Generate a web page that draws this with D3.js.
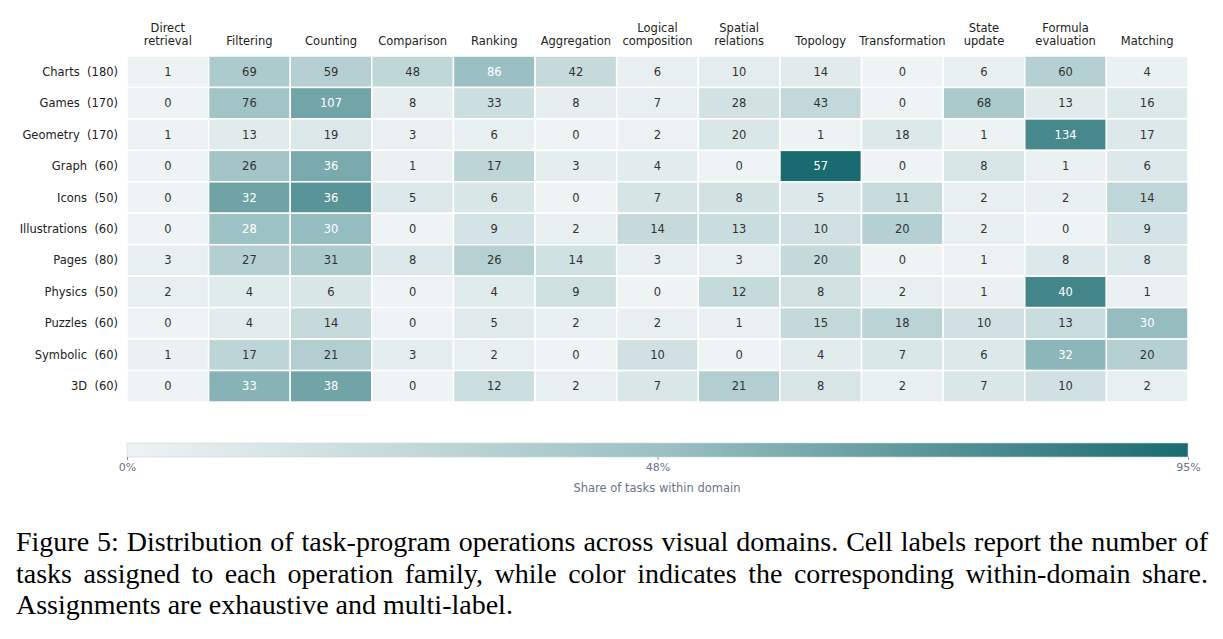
<!DOCTYPE html>
<html><head><meta charset="utf-8">
<script src="https://cdn.jsdelivr.net/npm/d3@7.9.0/dist/d3.min.js"></script>
<style>
body{margin:0;background:#fff}
.caption{position:absolute;left:16px;top:526px;width:1192px;font-family:"Liberation Serif",serif;font-size:28px;line-height:31.5px;color:#000;text-align:justify}
</style></head><body>
<svg id="chart" width="1223" height="520"></svg>
<div class="caption">Figure 5: Distribution of task-program operations across visual domains. Cell labels report the number of tasks assigned to each operation family, while color indicates the corresponding within-domain share. Assignments are exhaustive and multi-label.</div>
<script>
/* ---- data ---- */
const operations = [['Direct','retrieval'],['Filtering'],['Counting'],['Comparison'],['Ranking'],['Aggregation'],
  ['Logical','composition'],['Spatial','relations'],['Topology'],['Transformation'],['State','update'],['Formula','evaluation'],['Matching']];
const domains = ['Charts','Games','Geometry','Graph','Icons','Illustrations','Pages','Physics','Puzzles','Symbolic','3D'];
const domainTotals = [180,170,170,60,50,60,80,50,60,60,60];
const counts = [
  [1,69,59,48,86,42,6,10,14,0,6,60,4],
  [0,76,107,8,33,8,7,28,43,0,68,13,16],
  [1,13,19,3,6,0,2,20,1,18,1,134,17],
  [0,26,36,1,17,3,4,0,57,0,8,1,6],
  [0,32,36,5,6,0,7,8,5,11,2,2,14],
  [0,28,30,0,9,2,14,13,10,20,2,0,9],
  [3,27,31,8,26,14,3,3,20,0,1,8,8],
  [2,4,6,0,4,9,0,12,8,2,1,40,1],
  [0,4,14,0,5,2,2,1,15,18,10,13,30],
  [1,17,21,3,2,0,10,0,4,7,6,32,20],
  [0,33,38,0,12,2,7,21,8,2,7,10,2]
];
const colorTicks = [0, 0.475, 0.95];

/* ---- layout ---- */
const svg = d3.select('#chart');
const font = 'DejaVu Sans, sans-serif';
const x = d3.scaleBand().domain(d3.range(operations.length)).range([127,1188]).padding(0);
const y = d3.scaleBand().domain(d3.range(domains.length)).range([56,402]).padding(0);
const color = d3.scaleLinear().domain([0,0.475,0.95]).range(['#eef3f4','#9cc1c3','#1a6b70']).clamp(true);

const cells = counts.flatMap((row,i) => row.map((v,j) => ({i,j,v,share:v/domainTotals[i]})));

svg.append('g').selectAll('rect').data(cells).join('rect')
  .attr('x', d => x(d.j)).attr('y', d => y(d.i))
  .attr('width', x.bandwidth()).attr('height', y.bandwidth())
  .attr('fill', d => color(d.share)).attr('stroke','#fff').attr('stroke-width',1.5);

svg.append('g').selectAll('text').data(cells).join('text')
  .attr('x', d => x(d.j)+x.bandwidth()/2).attr('y', d => y(d.i)+y.bandwidth()/2)
  .attr('dy','0.35em').attr('text-anchor','middle')
  .attr('font-family',font).attr('font-size',11.5)
  .attr('fill', d => d.share > 0.46 ? '#fff' : '#333')
  .text(d => d.v);

/* column headers */
const hdr = svg.append('g').selectAll('text').data(operations).join('text')
  .attr('text-anchor','middle').attr('font-family',font).attr('font-size',11.5).attr('fill','#222')
  .attr('x',(d,j) => x(j)+x.bandwidth()/2);
hdr.selectAll('tspan').data(d => d).join('tspan')
  .attr('x', function(){ return this.parentNode.getAttribute('x'); })
  .attr('y', (t,k,n) => 45 - (n.length-1-k)*13)
  .text(t => t);

/* row labels */
svg.append('g').selectAll('text').data(domains).join('text')
  .attr('x',118).attr('y',(d,i) => y(i)+y.bandwidth()/2).attr('dy','0.35em')
  .attr('text-anchor','end').attr('font-family',font).attr('font-size',11.5).attr('fill','#222')
  .attr('xml:space','preserve')
  .text((d,i) => `${d}  (${domainTotals[i]})`);

/* colour bar */
const defs = svg.append('defs');
const grad = defs.append('linearGradient').attr('id','cb');
d3.range(0,1.001,0.05).forEach(t => grad.append('stop').attr('offset',t).attr('stop-color',color(t*0.95)));
svg.append('rect').attr('x',127).attr('y',443).attr('width',1061).attr('height',14)
  .attr('fill','url(#cb)').attr('stroke','#ccd6d8').attr('stroke-width',0.6);
const cx = d3.scaleLinear().domain([0,0.95]).range([127,1188]);
const axis = svg.append('g').attr('transform','translate(0,457)')
  .call(d3.axisBottom(cx).tickValues(colorTicks).tickSize(3).tickFormat(d => Math.round(d*100)+'%'));
axis.select('.domain').remove();
axis.selectAll('line').attr('stroke','#8891a0');
axis.selectAll('text').attr('font-family',font).attr('font-size',11).attr('fill','#6b7487');
svg.append('text').attr('x',657).attr('y',492).attr('text-anchor','middle')
  .attr('font-family',font).attr('font-size',11.5).attr('fill','#6b7487').text('Share of tasks within domain');
</script>
</body></html>
